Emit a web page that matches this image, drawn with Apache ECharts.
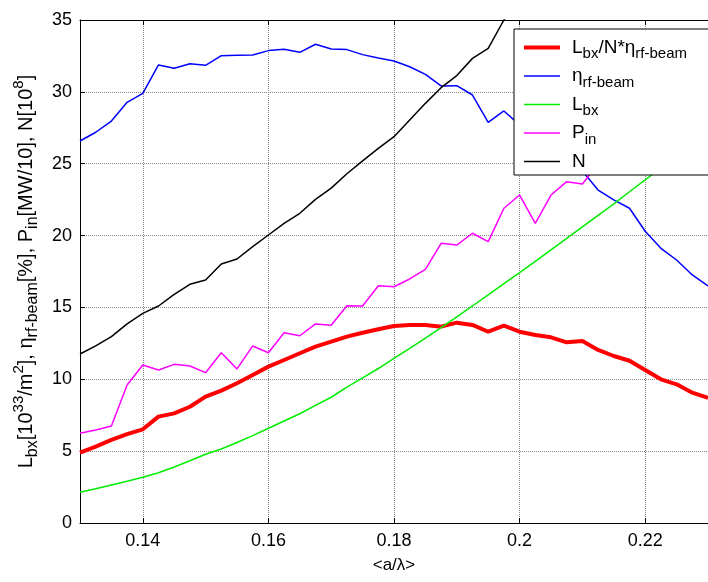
<!DOCTYPE html>
<html>
<head>
<meta charset="utf-8">
<script src="https://cdn.jsdelivr.net/npm/echarts@6/dist/echarts.min.js"></script>
<style>html,body{margin:0;padding:0;background:#fff}#c{width:708px;height:582px}</style>
</head>
<body>
<div id="c"></div>
<script>
// x values <a/lambda>
const xs = [0.13,0.1325,0.135,0.1375,0.14,0.1425,0.145,0.1475,0.15,0.1525,0.155,0.1575,0.16,0.1625,0.165,0.1675,0.17,0.1725,0.175,0.1775,0.18,0.1825,0.185,0.1875,0.19,0.1925,0.195,0.1975,0.2,0.2025,0.205,0.2075,0.21,0.2125,0.215,0.2175,0.22,0.2225,0.225,0.2275,0.23];
// L_bx/N*eta
const lumPerN = [4.89,5.31,5.78,6.19,6.52,7.4,7.63,8.09,8.79,9.21,9.72,10.3,10.88,11.34,11.81,12.27,12.62,12.97,13.24,13.48,13.71,13.78,13.78,13.66,13.94,13.78,13.31,13.73,13.31,13.08,12.92,12.57,12.66,12.04,11.62,11.29,10.65,10.0,9.65,9.07,8.7];
// eta rf-beam
const eta = [26.58,27.19,27.97,29.27,29.9,31.87,31.64,31.96,31.85,32.52,32.54,32.56,32.87,32.96,32.75,33.31,32.98,32.94,32.59,32.36,32.15,31.75,31.22,30.41,30.43,29.78,27.88,28.67,27.7,26.9,26.1,25.3,24.5,23.17,22.48,21.9,20.3,19.11,18.3,17.26,16.5];
// L_bx
const lbx = [2.14,2.38,2.64,2.9,3.18,3.5,3.9,4.33,4.78,5.15,5.6,6.08,6.59,7.1,7.6,8.18,8.75,9.45,10.1,10.75,11.46,12.15,12.87,13.6,14.35,15.1,15.87,16.65,17.42,18.2,19.0,19.8,20.6,21.4,22.2,23.05,23.87,24.7,25.55,26.4,27.25];
// P_in
const pin = [6.24,6.47,6.75,9.6,10.99,10.65,11.04,10.92,10.46,11.85,10.72,12.32,11.85,13.24,13.03,13.85,13.76,15.12,15.1,16.51,16.44,16.98,17.65,19.46,19.34,20.16,19.58,21.9,22.82,20.85,22.82,23.75,23.59,25.0,25.8,26.5,27.3,28.0,28.8,29.5,30.3];
// N
const nPart = [11.76,12.32,12.97,13.85,14.59,15.1,15.91,16.61,16.91,18.02,18.37,19.23,20.04,20.85,21.55,22.52,23.3,24.3,25.2,26.07,26.88,28.04,29.2,30.29,31.13,32.33,33.03,35.0,36.4,37.8,null,null,null,null,null,null,null,null,null,null,null];

const xTicks = [0.14,0.16,0.18,0.2,0.22];
const seriesNames = ['Lbx/N*eta','eta','Lbx','Pin','N'];
const legendLabels = {
  'Lbx/N*eta': '{m|L}{sub|bx}{m|/N*η}{sub|rf-beam}',
  'eta': '{m|η}{sub|rf-beam}',
  'Lbx': '{m|L}{sub|bx}',
  'Pin': '{m|P}{sub|in}',
  'N': '{m|N}'
};
const yName = '{m|L}{sub|bx}{m|[10}{sup|33}{m|/m}{sup|2}{m|], η}{sub|rf-beam}{m|[%], P}{sub|in}{m|[MW/10], N[10}{sup|8}{m|]}';

const FONT = '"Liberation Sans", Arial, sans-serif';
function makeRich(main, sub, sup, lh) {
  return {
    m: {fontSize: main, fontFamily: FONT, color: '#000', lineHeight: lh, verticalAlign: 'middle'},
    sub: {fontSize: sub, fontFamily: FONT, color: '#000', lineHeight: sub, verticalAlign: 'bottom'},
    sup: {fontSize: sup, fontFamily: FONT, color: '#000', lineHeight: sup, verticalAlign: 'top'}
  };
}
const legendRich = makeRich(19, 15, 14, 28);
const axisRich = makeRich(20, 16, 15, 30);

function pairs(arr) { return xs.map((x, i) => [x, arr[i]]); }

const colors = ['#ff0000', '#0000ff', '#00ee00', '#ff00ff', '#000000'];
const widths = [4, 1.5, 1.5, 1.5, 1.5];
const datasets = [lumPerN, eta, lbx, pin, nPart];

const chart = echarts.init(document.getElementById('c'), null, {renderer: 'canvas'});
chart.setOption({
  animation: false,
  backgroundColor: '#fff',
  textStyle: {fontFamily: FONT},
  grid: {left: 80, right: -10, top: 20, bottom: 59, containLabel: false},
  legend: {
    orient: 'vertical',
    left: 514, top: 29,
    z: 20,
    padding: [9, 40, 4, 10],
    itemGap: 5,
    itemWidth: 36, itemHeight: 14,
    backgroundColor: '#fff',
    borderColor: '#000', borderWidth: 1,
    data: seriesNames.map((n, i) => ({
      name: n,
      icon: i === 0 ? 'path://M0,0H36V4H0Z' : 'path://M0,0H36V1.5H0Z'
    })),
    formatter: n => legendLabels[n],
    textStyle: {rich: legendRich, padding: [0, 0, 0, 7]}
  },
  xAxis: [{
    type: 'value', min: 0.13, max: 0.23,
    name: '<a/λ>', nameLocation: 'middle', nameGap: 34,
    nameTextStyle: {fontSize: 17, color: '#000', fontFamily: FONT},
    axisLine: {show: true, lineStyle: {color: '#000', width: 1}},
    axisTick: {show: true, inside: true, length: 5, customValues: xTicks, lineStyle: {color: '#000'}},
    axisLabel: {customValues: xTicks, fontSize: 18, color: '#000', margin: 9, fontFamily: FONT},
    splitLine: {show: true, lineStyle: {type: 'dotted', color: '#888', width: 1}}
  }, {
    type: 'value', min: 0.13, max: 0.23, position: 'top',
    axisLine: {show: true, onZero: false, lineStyle: {color: '#000', width: 1}},
    axisTick: {show: true, inside: true, length: 5, customValues: xTicks, lineStyle: {color: '#000'}},
    axisLabel: {show: false},
    splitLine: {show: false}
  }],
  yAxis: {
    type: 'value', min: 0, max: 35, interval: 5,
    name: yName, nameLocation: 'middle', nameGap: 37, nameRotate: 90,
    nameTextStyle: {rich: axisRich},
    axisLine: {show: true, onZero: false, lineStyle: {color: '#000', width: 1}},
    axisTick: {show: true, inside: true, length: 5, lineStyle: {color: '#000'}},
    axisLabel: {fontSize: 18, color: '#000', margin: 8, fontFamily: FONT},
    splitLine: {show: true, lineStyle: {type: 'dotted', color: '#888', width: 1}}
  },
  series: seriesNames.map((name, i) => ({
    name: name,
    type: 'line',
    xAxisIndex: 0,
    data: pairs(datasets[i]),
    symbol: 'none',
    showSymbol: false,
    connectNulls: false,
    clip: true,
    lineStyle: {color: colors[i], width: widths[i]},
    itemStyle: {color: colors[i]},
    z: 2,
    zlevel: 0
  }))
});
</script>
</body>
</html>
